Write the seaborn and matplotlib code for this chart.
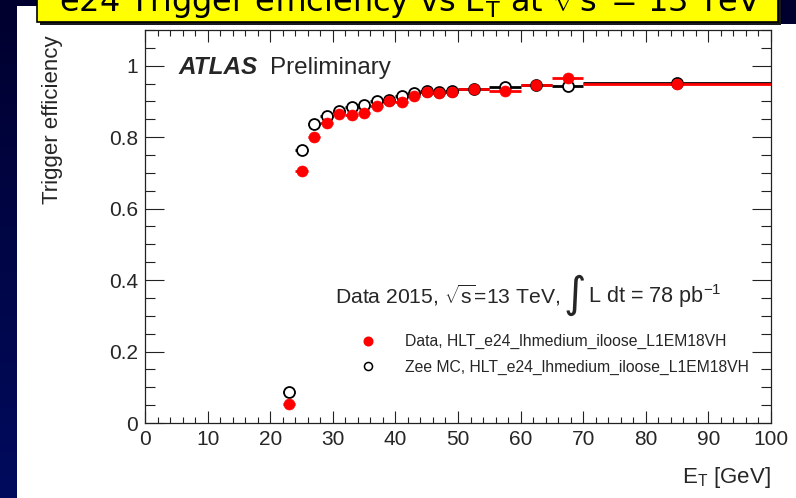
import numpy as np
import pandas as pd
import matplotlib
matplotlib.use("Agg")
import matplotlib.pyplot as plt
import seaborn as sns
from matplotlib.patches import Rectangle
from matplotlib.lines import Line2D
from matplotlib.colors import LinearSegmentedColormap

# ---------------- data ----------------
et_center = [23, 25, 27, 29, 31, 33, 35, 37, 39, 41, 43, 45, 47, 49,
             52.5, 57.5, 62.5, 67.5, 85]
et_halfwidth = [1, 1, 1, 1, 1, 1, 1, 1, 1, 1, 1, 1, 1, 1,
                2.5, 2.5, 2.5, 2.5, 15]
data_eff = [0.052, 0.706, 0.801, 0.841, 0.866, 0.861, 0.867, 0.886, 0.900,
            0.899, 0.916, 0.926, 0.925, 0.927, 0.934, 0.929, 0.946, 0.966, 0.948]
data_err = [0.008, 0.014, 0.011, 0.009, 0.008, 0.008, 0.008, 0.007, 0.007,
            0.007, 0.006, 0.006, 0.006, 0.006, 0.005, 0.006, 0.006, 0.007, 0.005]
mc_eff = [0.086, 0.763, 0.838, 0.858, 0.873, 0.884, 0.890, 0.901, 0.904,
          0.916, 0.925, 0.928, 0.926, 0.928, 0.935, 0.940, 0.946, 0.943, 0.953]
mc_err = [0.003, 0.004, 0.003, 0.003, 0.003, 0.003, 0.003, 0.003, 0.003,
          0.003, 0.003, 0.003, 0.003, 0.003, 0.002, 0.002, 0.002, 0.002, 0.002]

x_ticks = [0, 10, 20, 30, 40, 50, 60, 70, 80, 90, 100]
y_ticks = [0, 0.2, 0.4, 0.6, 0.8, 1.0]
y_tick_labels = ["0", "0.2", "0.4", "0.6", "0.8", "1"]

data_label = "Data, HLT_e24_lhmedium_iloose_L1EM18VH"
mc_label = "Zee MC, HLT_e24_lhmedium_iloose_L1EM18VH"

df = pd.DataFrame({"et": et_center, "hw": et_halfwidth,
                   "data": data_eff, "data_err": data_err,
                   "mc": mc_eff, "mc_err": mc_err})

# ---------------- style ----------------
sns.set_style("ticks")
plt.rcParams["font.family"] = ["Liberation Sans", "DejaVu Sans"]
plt.rcParams["mathtext.fontset"] = "custom"
plt.rcParams["mathtext.rm"] = "Liberation Sans"
plt.rcParams["mathtext.it"] = "Liberation Sans:italic"
plt.rcParams["mathtext.bf"] = "Liberation Sans:bold"

W, H = 796, 498
fig = plt.figure(figsize=(W / 100, H / 100), dpi=100)
fig.patch.set_facecolor("white")

# ---------------- slide background ----------------
bg = fig.add_axes([0, 0, 1, 1], zorder=-10)
bg.set_xlim(0, W)
bg.set_ylim(H, 0)
bg.axis("off")
grad = np.linspace(0, 1, 256).reshape(-1, 1)
navy = LinearSegmentedColormap.from_list("navy", ["#00002e", "#000b5e"])
bg.imshow(grad, cmap=navy, extent=[0, 17, H, 0], aspect="auto")
bg.add_patch(Rectangle((0, 0), W, 6, color="#00002e", lw=0))
bg.add_patch(Rectangle((779, 0), W - 779, 24, color="#00002e", lw=0))
bg.add_patch(Rectangle((40, 0), 741, 25, color="#1a1a1a", lw=0))
bg.add_patch(Rectangle((37, -3), 741, 25, facecolor="#ffff00",
                       edgecolor="black", lw=1.2))
bg.text(410, 12, r"e24 Trigger efficiency vs E$_\mathregular{T}$ at $\sqrt{\mathregular{s}}$ = 13 TeV",
        ha="center", va="baseline", fontsize=23, color="black",
        family=["DejaVu Sans"], clip_on=True)

# ---------------- main axes ----------------
ax = fig.add_axes([145 / W, 75 / H, 626 / W, 393 / H])
ax.set_facecolor("white")

ax.errorbar(df["et"], df["mc"], xerr=df["hw"], yerr=df["mc_err"], fmt="none",
            ecolor="black", elinewidth=2.0, capsize=0, zorder=2)
ax.errorbar(df["et"], df["data"], xerr=df["hw"], yerr=df["data_err"], fmt="none",
            ecolor="#ff0000", elinewidth=2.0, capsize=0, zorder=3)
sns.scatterplot(data=df, x="et", y="mc", ax=ax, marker="o", s=62,
                color="white", edgecolor="black", linewidth=1.3, zorder=4,
                legend=False)
sns.scatterplot(data=df, x="et", y="data", ax=ax, marker="o", s=62,
                color="#ff0000", edgecolor="#ff0000", linewidth=0.5, zorder=5,
                legend=False)

ax.set_xlim(0, 100)
ax.set_ylim(0, 1.1)
ax.set_xticks(x_ticks)
ax.set_xticklabels([str(v) for v in x_ticks])
ax.set_yticks(y_ticks)
ax.set_yticklabels(y_tick_labels)
ax.set_xticks(np.arange(0, 101, 2), minor=True)
ax.set_yticks(np.arange(0, 1.1001, 0.05), minor=True)

ax.tick_params(which="both", direction="in", top=True, right=True,
               width=0.8, color="#222222", labelsize=15, pad=5)
ax.tick_params(axis="x", which="major", length=8.6)
ax.tick_params(axis="x", which="minor", length=4.3)
ax.tick_params(axis="y", which="major", length=13.7)
ax.tick_params(axis="y", which="minor", length=7.5)
for sp in ax.spines.values():
    sp.set_linewidth(0.9)
    sp.set_color("#222222")

ax.set_ylabel("Trigger efficiency", fontsize=16, loc="top")
ax.yaxis.set_label_coords(-0.131, 0.987)
ax.set_xlabel(r"E$_\mathregular{T}$ [GeV]", fontsize=16, loc="right")
ax.xaxis.set_label_coords(1.0, -0.108)

# ATLAS label
fig.text(178 / W, 1 - 74 / H, "ATLAS", fontsize=17.5, fontweight="bold",
         fontstyle="italic", va="baseline", ha="left")
fig.text(270 / W, 1 - 74 / H, "Preliminary", fontsize=17.5,
         va="baseline", ha="left")

# Data 2015 text
fig.text(335 / W, 1 - 303 / H, r"Data 2015, $\sqrt{\mathregular{s}}$=13 TeV,",
         fontsize=15.2, va="baseline", ha="left")
fig.text(575 / W, 1 - 295 / H, "\u222b", fontsize=31, va="center",
         ha="center", family=["DejaVu Sans"])
fig.text(588 / W, 1 - 303 / H, r"L dt = 78 pb$^\mathregular{-1}$",
         fontsize=15.6, va="baseline", ha="left")

# legend
handles = [
    Line2D([], [], marker="o", ls="none", markersize=6.2,
           markerfacecolor="#ff0000", markeredgecolor="#ff0000"),
    Line2D([], [], marker="o", ls="none", markersize=5.8,
           markerfacecolor="white", markeredgecolor="black", markeredgewidth=1.1),
]
leg = ax.legend(handles, [data_label, mc_label], frameon=False,
                fontsize=11.3, handlelength=1.0, handletextpad=1.85,
                labelspacing=0.68, borderpad=0, borderaxespad=0,
                loc="center left",
                bbox_to_anchor=(360.5 / W, 1 - 354.5 / H),
                bbox_transform=fig.transFigure)

fig.savefig("out.png", dpi=100, facecolor=fig.get_facecolor())
